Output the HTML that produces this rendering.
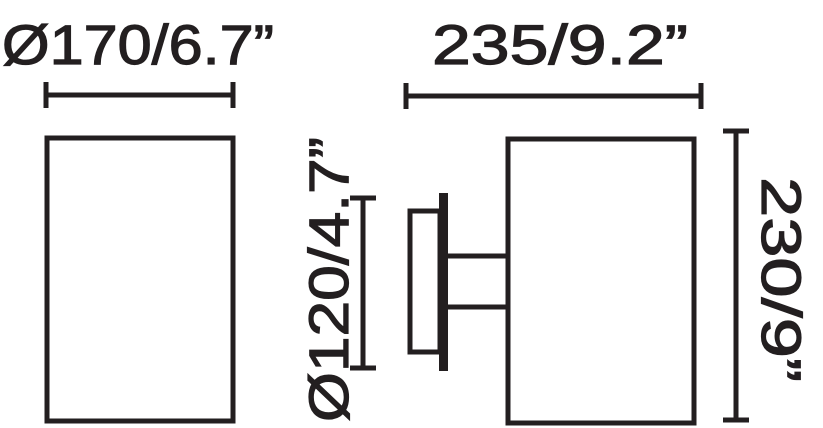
<!DOCTYPE html>
<html><head><style>html,body{margin:0;padding:0;background:#fff}svg{display:block}</style></head>
<body>
<svg width="823" height="428" viewBox="0 0 823 428" xmlns="http://www.w3.org/2000/svg">
<g fill="none" stroke="#231f20" stroke-width="5">
<rect x="47" y="138" width="186" height="283"/>
<line x1="46" y1="95" x2="233" y2="95"/>
<line x1="46" y1="82" x2="46" y2="108"/>
<line x1="233" y1="82" x2="233" y2="108"/>
<line x1="406" y1="96" x2="701" y2="96"/>
<line x1="406" y1="83" x2="406" y2="109"/>
<line x1="701" y1="83" x2="701" y2="109"/>
<rect x="508" y="139" width="186" height="284"/>
<rect x="410" y="211" width="30" height="141"/>
<line x1="448" y1="256" x2="508" y2="256"/>
<line x1="448" y1="307" x2="508" y2="307"/>
<line x1="363" y1="198" x2="363" y2="368"/>
<line x1="350" y1="198" x2="376" y2="198"/>
<line x1="350" y1="368" x2="376" y2="368"/>
<line x1="736" y1="131" x2="736" y2="420"/>
<line x1="723" y1="131" x2="749" y2="131"/>
<line x1="723" y1="420" x2="749" y2="420"/>
</g>
<rect x="439" y="193" width="9" height="178" fill="#231f20"/>
<g font-family="Liberation Sans, sans-serif" font-size="56" fill="#231f20" stroke="#231f20" stroke-width="1.2">
<text x="2" y="64" textLength="272" lengthAdjust="spacingAndGlyphs">Ø170/6.7”</text>
<text x="432" y="64" textLength="256" lengthAdjust="spacingAndGlyphs">235/9.2”</text>
<text transform="translate(348,422) rotate(-90)" textLength="285" lengthAdjust="spacingAndGlyphs">Ø120/4.7”</text>
<text transform="translate(762,177) rotate(90)" textLength="205" lengthAdjust="spacingAndGlyphs">230/9”</text>
</g>
</svg>
</body></html>
